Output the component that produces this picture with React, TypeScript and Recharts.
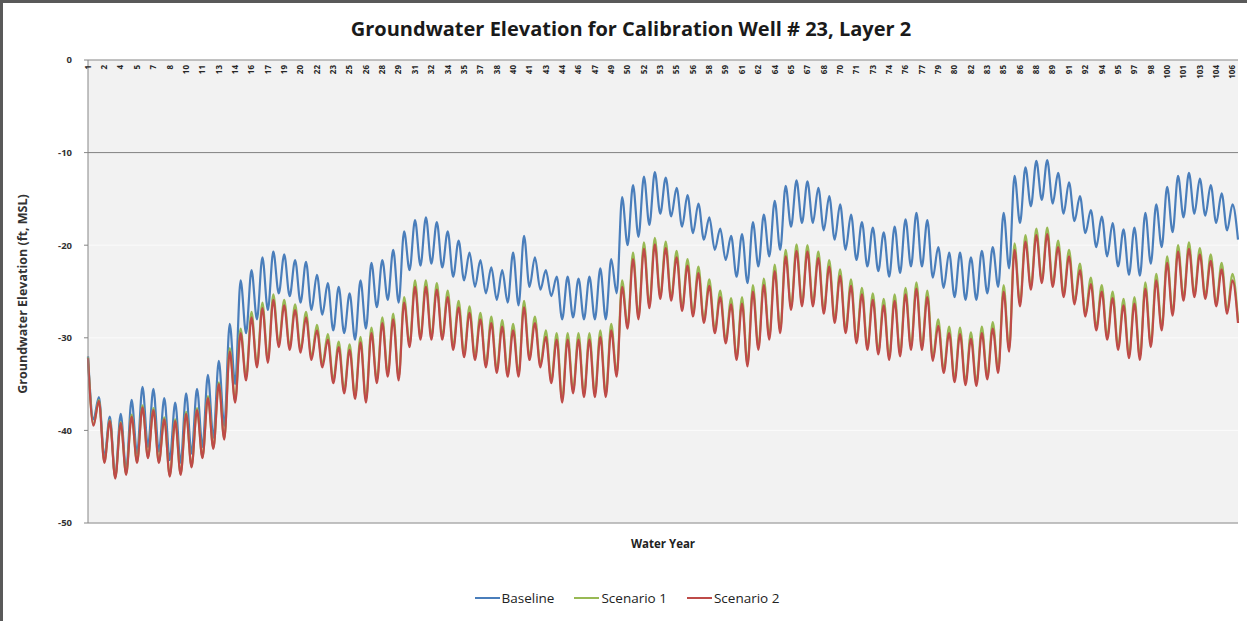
import { LineChart, Line, XAxis, YAxis, CartesianGrid, ReferenceLine } from 'recharts'

// water years on the category axis
const WATER_YEARS = Array.from({ length: 106 }, (_, i) => i + 1)

const SERIES_NAMES = ['Baseline', 'Scenario 1', 'Scenario 2']
const SERIES_COLORS = ['#4a7ebb', '#98b954', '#be4b48']

const Y_TICKS = [0, -10, -20, -30, -40, -50]

// seasonal high / low for each water year (ft, MSL)
const BASE_HIGH = [
  -32, -36.4, -38.5, -38.2, -36.7, -35.3, -35.5, -36.5, -37, -36, -35.5, -34, -32.5, -28.5, -23.8, -22.7, -21.3, -20.7, -21,
  -21.6, -21.8, -23.2, -24.1, -24.5, -25.2, -23.8, -21.9, -21.6, -20.5, -18.5, -17.3, -17, -17.5, -18.5, -19.5, -20.8, -21.6,
  -22.4, -22.7, -20.8, -19, -21.3, -22.7, -23.4, -23.4, -23.6, -23.4, -22.5, -21.5, -14.8, -13.5, -12.6, -12.1, -12.7, -13.8,
  -14.6, -15.5, -17, -18.2, -19, -18.8, -17.5, -16.7, -15.2, -13.6, -13, -13.1, -13.8, -14.7, -15.6, -16.7, -17.5, -18.1,
  -18.6, -18, -17.2, -16.5, -17.3, -20.2, -20.8, -20.8, -21.3, -20.6, -20.2, -16.5, -12.5, -11.6, -10.9, -10.8, -12.2, -13.2,
  -14.7, -16.2, -16.9, -17.6, -18.3, -18.1, -16.5, -15.6, -13.7, -12.5, -12.2, -12.8, -13.5, -14.4, -15.6,
]
const BASE_LOW = [
  -38.8, -42.9, -45, -44.3, -42.5, -41.8, -42.3, -43.2, -43.5, -42.5, -41.8, -40.8, -39.5, -35, -29.5, -28, -27, -25.2,
  -25.5, -26.2, -27, -27.5, -29.2, -29.5, -30.2, -29, -26.7, -25.9, -26.2, -22.7, -22.2, -22, -22.4, -23.4, -23.8, -24.5,
  -25.2, -25.9, -26.2, -26.5, -24.5, -24.8, -25.5, -28, -27.8, -28, -28, -28, -25.2, -20, -19.1, -17.8, -16.6, -16.9, -18,
  -18.7, -19.4, -20.5, -21.6, -23.4, -24.1, -22.3, -21.2, -20.5, -18, -17.6, -17.6, -18.4, -19.4, -20.5, -21.6, -22.3,
  -22.8, -23.4, -23, -22.3, -22.3, -23.5, -24.6, -25.6, -25.9, -25.9, -25.2, -24.5, -22.5, -17.6, -15.8, -15.1, -15.5,
  -16.6, -17.4, -18.7, -20.2, -21.2, -22.3, -23.2, -23.3, -22, -20.2, -18.6, -17, -16.6, -16.8, -17.6, -18.4, -19.4,
]
const S1_HIGH = [
  -32.1, -36.7, -38.9, -39.1, -38.3, -37.3, -37.6, -38.6, -38.8, -38, -37.6, -36.3, -34.8, -31.1, -29, -27.2, -26.2, -25.3,
  -25.9, -26.4, -27.2, -28.6, -29.6, -30.4, -30.7, -29.9, -28.9, -27.8, -27.4, -25.6, -23.8, -23.8, -24.1, -24.9, -26,
  -26.6, -27.3, -27.7, -28.1, -28.5, -26, -27.7, -29.2, -29.5, -29.5, -29.5, -29.5, -29.2, -28.5, -23.8, -20.8, -19.7,
  -19.2, -19.6, -20.6, -21.5, -22.3, -23.7, -24.9, -25.7, -25.6, -24.3, -23.6, -22.1, -20.5, -19.9, -20, -20.7, -21.6,
  -22.6, -23.7, -24.6, -25.2, -25.8, -25.3, -24.6, -24, -24.9, -28, -28.8, -28.9, -29.4, -28.8, -28.3, -24.3, -19.8,
  -18.9, -18.2, -18.1, -19.5, -20.5, -22, -23.5, -24.3, -25, -25.8, -25.6, -24, -23.1, -21.2, -20, -19.7, -20.3, -21,
  -21.9, -23.1,
]
const S1_LOW = [
  -39.4, -43.4, -45.1, -44.7, -43.4, -42.9, -43.4, -44.9, -44.7, -43.9, -42.9, -41.9, -40.9, -36.8, -34.3, -32.9, -32.4,
  -30.7, -31, -31.3, -32.1, -32.9, -34.6, -35.7, -36.3, -36.7, -34.6, -33.9, -34.3, -30.7, -29.9, -29.9, -29.9, -31,
  -31.8, -32.1, -32.9, -33.5, -33.9, -33.9, -32.1, -32.9, -34.6, -36.7, -35.7, -36.1, -36.1, -36.1, -33.9, -28.7, -27.7,
  -26.5, -25.5, -25.7, -26.8, -27.4, -28.1, -29.2, -30.3, -32.1, -32.8, -31, -29.9, -29.2, -26.7, -26.3, -26.3, -27.1,
  -28.1, -29.2, -30.3, -31, -31.5, -32.1, -31.7, -31, -31, -32.2, -33.5, -34.5, -34.8, -34.9, -34.2, -33.5, -31.2, -26.3,
  -24.5, -23.8, -24.2, -25.3, -26.1, -27.4, -28.9, -29.9, -31, -31.9, -32.1, -30.7, -28.9, -27.3, -25.7, -25.3, -25.5,
  -26.3, -27.1, -28.1,
]
const S2_HIGH = [
  -32.2, -36.8, -39, -39.2, -38.5, -37.5, -37.8, -38.8, -39, -38.2, -37.8, -36.5, -35, -31.5, -29.5, -27.8, -26.8, -25.9,
  -26.5, -27, -27.8, -29.2, -30.2, -31, -31.3, -30.5, -29.5, -28.4, -28, -26.2, -24.5, -24.5, -24.8, -25.6, -26.7, -27.3,
  -28, -28.4, -28.8, -29.2, -26.7, -28.4, -29.9, -30.2, -30.2, -30.2, -30.2, -29.9, -29.2, -24.5, -21.5, -20.4, -19.9,
  -20.3, -21.3, -22.2, -23, -24.4, -25.6, -26.4, -26.3, -25, -24.3, -22.8, -21.2, -20.6, -20.7, -21.4, -22.3, -23.3,
  -24.4, -25.3, -25.9, -26.5, -26, -25.3, -24.7, -25.6, -28.7, -29.5, -29.6, -30.1, -29.5, -29, -25, -20.5, -19.6, -18.9,
  -18.8, -20.2, -21.2, -22.7, -24.2, -25, -25.7, -26.5, -26.3, -24.7, -23.8, -21.9, -20.7, -20.4, -21, -21.7, -22.6, -23.8,
]
const S2_LOW = [
  -39.5, -43.5, -45.2, -44.8, -43.5, -43, -43.5, -45, -44.8, -44, -43, -42, -41, -37, -34.6, -33.2, -32.7, -31, -31.3,
  -31.6, -32.4, -33.2, -34.9, -36, -36.6, -37, -34.9, -34.2, -34.6, -31, -30.2, -30.2, -30.2, -31.3, -32.1, -32.4, -33.2,
  -33.8, -34.2, -34.2, -32.4, -33.2, -34.9, -37, -36, -36.4, -36.4, -36.4, -34.2, -29, -28, -26.8, -25.8, -26, -27.1,
  -27.7, -28.4, -29.5, -30.6, -32.4, -33.1, -31.3, -30.2, -29.5, -27, -26.6, -26.6, -27.4, -28.4, -29.5, -30.6, -31.3,
  -31.8, -32.4, -32, -31.3, -31.3, -32.5, -33.8, -34.8, -35.1, -35.2, -34.5, -33.8, -31.5, -26.6, -24.8, -24.1, -24.5,
  -25.6, -26.4, -27.7, -29.2, -30.2, -31.3, -32.2, -32.4, -31, -29.2, -27.6, -26, -25.6, -25.8, -26.6, -27.4, -28.4,
]

const rows: { wy: string; baseline: number; s1: number; s2: number }[] = []
WATER_YEARS.forEach((wy, i) => {
  rows.push({ wy: String(wy), baseline: BASE_HIGH[i], s1: S1_HIGH[i], s2: S2_HIGH[i] })
  rows.push({ wy: String(wy), baseline: BASE_LOW[i], s1: S1_LOW[i], s2: S2_LOW[i] })
})

const FONT = '"Open Sans", Lato, Arial, sans-serif'
const AXIS_GRAY = '#868686'

function YearTick({ x, y, payload }: { x?: number; y?: number; payload?: { value: string } }) {
  const ty = (y ?? 0) + 5
  return (
    <text
      x={x}
      y={ty}
      dy="0.35em"
      transform={`rotate(-90 ${x} ${ty})`}
      textAnchor="end"
      fontSize={8}
      fontWeight={700}
      fill="#262626"
      fontFamily={FONT}
    >
      {payload?.value}
    </text>
  )
}

export default function App() {
  return (
    <div style={{ position: 'absolute', top: 0, left: 0, width: 1247, height: 621, background: '#fff', fontFamily: FONT }}>
      <div style={{ position: 'absolute', top: 0, left: 0, width: 1247, height: 3, background: '#595959' }} />
      <div style={{ position: 'absolute', top: 0, left: 0, width: 3, height: 621, background: '#595959' }} />
      <div
        style={{
          position: 'absolute',
          top: 15,
          left: 0,
          width: 1262,
          textAlign: 'center',
          fontSize: 20,
          fontWeight: 700,
          color: '#1a1a1a',
        }}
      >
        Groundwater Elevation for Calibration Well # 23, Layer 2
      </div>
      <div
        style={{
          position: 'absolute',
          left: 22,
          top: 294,
          transform: 'translate(-50%, -50%) rotate(-90deg)',
          whiteSpace: 'nowrap',
          fontSize: 12.5,
          fontWeight: 700,
          color: '#333',
        }}
      >
        Groundwater Elevation (ft, MSL)
      </div>
      <div
        style={{
          position: 'absolute',
          top: 536,
          left: 0,
          width: 1326,
          textAlign: 'center',
          fontSize: 11.5,
          fontWeight: 700,
          color: '#222',
        }}
      >
        Water Year
      </div>
      <div
        style={{
          position: 'absolute',
          top: 589,
          left: 0,
          width: 1254,
          display: 'flex',
          justifyContent: 'center',
          gap: 20,
          fontSize: 13.5,
          color: '#222',
        }}
      >
        {SERIES_NAMES.map((name, i) => (
          <div key={name} style={{ display: 'flex', alignItems: 'center' }}>
            <span style={{ display: 'inline-block', width: 25, height: 2, background: SERIES_COLORS[i], marginRight: 2 }} />
            <span>{name}</span>
          </div>
        ))}
      </div>
      <div style={{ position: 'absolute', top: 0, left: 0 }}>
        <LineChart width={1247} height={621} data={rows} margin={{ top: 40, right: 9, bottom: 98, left: 28 }}>
          <CartesianGrid vertical={false} stroke="#fbfbfb" fill="#f2f2f2" />
          <XAxis
            dataKey="wy"
            orientation="top"
            height={20}
            interval={2}
            tickLine={false}
            tickSize={0}
            tickMargin={0}
            axisLine={{ stroke: AXIS_GRAY }}
            tick={<YearTick />}
          />
          <YAxis
            domain={[-50, 0]}
            ticks={Y_TICKS}
            width={60}
            tickSize={4}
            tickMargin={12}
            tickLine={{ stroke: AXIS_GRAY }}
            axisLine={{ stroke: AXIS_GRAY }}
            tick={{ fontSize: 9.5, fontWeight: 700, fill: '#333', fontFamily: FONT }}
          />
          <YAxis yAxisId="frame" orientation="right" width={0} tick={false} axisLine={{ stroke: AXIS_GRAY }} />
          <ReferenceLine y={-10} stroke="#7f7f7f" />
          <ReferenceLine y={-50} stroke={AXIS_GRAY} />
          <Line type="monotone" dataKey="baseline" name={SERIES_NAMES[0]} stroke={SERIES_COLORS[0]} strokeWidth={2.2} dot={false} isAnimationActive={false} />
          <Line type="monotone" dataKey="s1" name={SERIES_NAMES[1]} stroke={SERIES_COLORS[1]} strokeWidth={2.2} dot={false} isAnimationActive={false} />
          <Line type="monotone" dataKey="s2" name={SERIES_NAMES[2]} stroke={SERIES_COLORS[2]} strokeWidth={2.2} dot={false} isAnimationActive={false} />
        </LineChart>
      </div>
    </div>
  )
}
